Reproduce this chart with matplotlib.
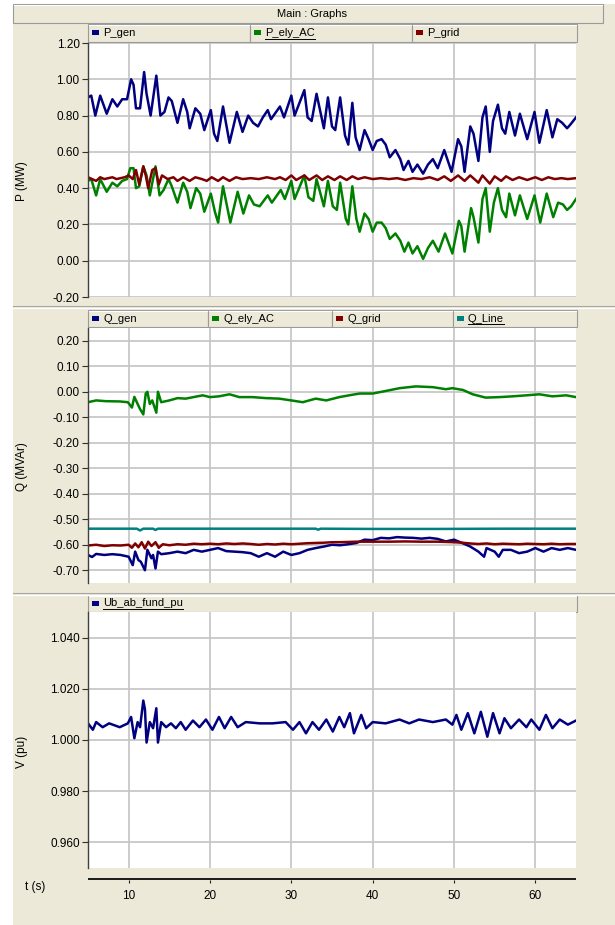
import matplotlib.pyplot as plt
from matplotlib.patches import Rectangle
from matplotlib.ticker import FormatStrFormatter

plt.rcParams['font.family'] = ['Liberation Sans', 'DejaVu Sans']

W, H = 615, 925
BEIGE = '#ECE9D8'
GRID = '#C4C4C4'
NAVY = '#000080'
GREEN = '#008000'
MAROON = '#800000'
TEAL = '#008080'

time_ticks = [10, 20, 30, 40, 50, 60]

# ---- P panel (MW) ----
t_pgen = [5.0, 5.4, 5.9, 6.5, 7.3, 8.0, 8.6, 9.2, 9.8, 10.3, 10.6, 10.9, 11.4, 11.9, 12.2,
          12.7, 13.4, 13.9, 14.4, 14.9, 15.3, 16.0, 16.7, 17.2, 17.5, 18.2, 18.8, 19.3, 20.1,
          20.5, 20.9, 21.6, 22.4, 23.3, 24.0, 24.7, 25.3, 25.9, 26.5, 27.1, 27.5, 28.6, 29.1,
          30.0, 30.4, 31.6, 32.0, 32.5, 33.1, 34.0, 34.5, 35.0, 35.4, 36.0, 36.6, 37.0, 37.5,
          37.9, 38.4, 39.0, 39.5, 40.0, 40.5, 41.1, 41.6, 42.1, 42.8, 43.4, 43.8, 44.4, 44.9,
          45.5, 46.2, 46.8, 47.4, 48.0, 48.8, 49.7, 50.5, 50.9, 51.3, 52.0, 52.4, 53.0, 53.5,
          53.9, 54.4, 54.8, 55.4, 55.9, 56.3, 56.8, 57.5, 58.1, 59.0, 59.9, 60.5, 61.4, 62.1,
          62.7, 63.3, 63.9, 64.3, 65.0]
p_gen = [0.90, 0.91, 0.80, 0.91, 0.81, 0.89, 0.85, 0.89, 0.89, 1.00, 0.97, 0.84, 0.84, 1.04, 0.92,
         0.80, 1.02, 0.80, 0.82, 0.90, 0.88, 0.76, 0.89, 0.82, 0.73, 0.84, 0.81, 0.72, 0.83,
         0.70, 0.66, 0.85, 0.65, 0.82, 0.71, 0.80, 0.76, 0.74, 0.79, 0.83, 0.78, 0.85, 0.79,
         0.91, 0.80, 0.94, 0.79, 0.77, 0.92, 0.73, 0.90, 0.74, 0.72, 0.90, 0.69, 0.64, 0.87,
         0.68, 0.61, 0.72, 0.67, 0.61, 0.66, 0.67, 0.64, 0.57, 0.61, 0.56, 0.50, 0.55, 0.49,
         0.53, 0.48, 0.53, 0.56, 0.51, 0.61, 0.49, 0.67, 0.63, 0.49, 0.74, 0.70, 0.55, 0.79,
         0.85, 0.60, 0.77, 0.86, 0.73, 0.70, 0.82, 0.69, 0.81, 0.67, 0.82, 0.65, 0.83, 0.68,
         0.78, 0.76, 0.73, 0.75, 0.79]

t_pely = [5.0, 5.4, 6.0, 6.5, 7.3, 8.0, 8.6, 9.2, 9.8, 10.2, 10.6, 10.9, 11.3, 11.8, 12.2,
          12.6, 13.3, 13.8, 14.3, 14.9, 15.3, 16.0, 16.7, 17.2, 17.6, 18.3, 18.8, 19.3, 20.1,
          20.6, 21.0, 21.6, 22.5, 23.4, 24.1, 24.8, 25.4, 26.1, 27.1, 27.6, 28.7, 29.2, 30.0,
          30.4, 31.6, 32.1, 32.7, 33.1, 34.0, 34.5, 35.1, 35.6, 36.0, 36.7, 37.0, 37.5, 38.0,
          38.4, 39.0, 39.5, 40.0, 40.5, 41.1, 41.6, 42.1, 42.8, 43.4, 43.9, 44.4, 44.9, 45.5,
          46.2, 46.8, 47.4, 48.1, 48.9, 49.8, 50.6, 50.9, 51.3, 52.1, 52.4, 53.0, 53.5, 53.9,
          54.4, 54.9, 55.4, 55.9, 56.4, 56.8, 57.5, 58.1, 59.0, 59.9, 60.6, 61.4, 62.2, 62.8,
          63.4, 63.9, 64.4, 65.0]
p_ely_ac = [0.44, 0.45, 0.36, 0.45, 0.38, 0.43, 0.41, 0.44, 0.45, 0.51, 0.51, 0.40, 0.41, 0.52, 0.47,
            0.36, 0.52, 0.36, 0.39, 0.45, 0.41, 0.32, 0.43, 0.38, 0.29, 0.40, 0.37, 0.27, 0.37,
            0.27, 0.21, 0.41, 0.21, 0.38, 0.26, 0.36, 0.31, 0.30, 0.36, 0.32, 0.39, 0.34, 0.44,
            0.34, 0.47, 0.35, 0.33, 0.45, 0.30, 0.44, 0.30, 0.28, 0.43, 0.23, 0.20, 0.41, 0.23,
            0.16, 0.26, 0.23, 0.16, 0.21, 0.21, 0.18, 0.12, 0.15, 0.11, 0.05, 0.10, 0.04, 0.08,
            0.01, 0.07, 0.11, 0.05, 0.15, 0.04, 0.22, 0.19, 0.05, 0.29, 0.24, 0.10, 0.34, 0.40,
            0.16, 0.32, 0.40, 0.28, 0.24, 0.37, 0.25, 0.36, 0.23, 0.36, 0.21, 0.37, 0.24, 0.32,
            0.31, 0.28, 0.30, 0.34]

t_pgrid = [5.0, 5.5, 6.0, 6.5, 7.0, 7.5, 8.0, 8.5, 9.0, 9.5, 10.0, 10.5, 10.9, 11.3, 11.8,
           12.1, 12.4, 12.9, 13.3, 13.7, 14.1, 14.8, 15.5, 16.0, 16.7, 17.5, 18.2, 19.0, 19.6,
           20.2, 21.0, 21.6, 22.4, 23.2, 24.0, 25.0, 26.0, 27.0, 28.0, 28.6, 29.3, 30.0, 30.6,
           31.6, 32.2, 33.1, 33.8, 34.5, 35.3, 36.0, 36.8, 37.5, 38.2, 39.0, 40.0, 41.0, 42.0,
           43.0, 44.0, 45.0, 46.0, 47.0, 48.0, 48.8, 49.6, 50.5, 51.3, 52.0, 53.0, 53.5, 54.4,
           55.0, 55.8, 56.4, 57.2, 58.0, 59.0, 60.0, 60.8, 61.6, 62.4, 63.2, 64.0, 65.0]
p_grid = [0.46, 0.45, 0.44, 0.46, 0.45, 0.455, 0.46, 0.45, 0.455, 0.46, 0.47, 0.45, 0.50, 0.42, 0.52,
          0.47, 0.40, 0.50, 0.51, 0.42, 0.47, 0.45, 0.46, 0.44, 0.46, 0.44, 0.46, 0.45, 0.44,
          0.46, 0.44, 0.46, 0.44, 0.46, 0.45, 0.455, 0.45, 0.46, 0.45, 0.46, 0.445, 0.47, 0.445,
          0.47, 0.445, 0.47, 0.445, 0.465, 0.445, 0.465, 0.445, 0.465, 0.45, 0.46, 0.45, 0.455, 0.45,
          0.455, 0.445, 0.455, 0.45, 0.46, 0.445, 0.465, 0.44, 0.47, 0.44, 0.47, 0.43, 0.47, 0.425,
          0.465, 0.44, 0.465, 0.445, 0.46, 0.445, 0.46, 0.445, 0.46, 0.45, 0.455, 0.45, 0.455]

# ---- Q panel (MVAr) ----
t_qgen = [5.0, 5.5, 6.0, 7.0, 8.0, 9.0, 10.0, 10.5, 10.8, 11.2, 11.5, 12.0, 12.3, 12.8, 13.0,
          13.3, 13.6, 14.0, 15.0, 16.0, 17.0, 18.0, 19.0, 20.0, 21.0, 22.0, 23.0, 24.0, 25.0,
          26.0, 27.0, 28.0, 29.0, 30.0, 31.0, 32.0, 33.0, 34.0, 35.0, 36.0, 37.0, 38.0, 39.0,
          40.0, 41.0, 42.0, 43.0, 44.0, 45.0, 46.0, 47.0, 48.0, 49.0, 50.0, 51.0, 52.0, 53.0,
          53.7, 54.0, 55.0, 55.5, 56.0, 57.0, 58.0, 59.0, 60.0, 61.0, 62.0, 63.0, 64.0, 65.0]
q_gen = [-0.640, -0.648, -0.636, -0.640, -0.637, -0.640, -0.647, -0.680, -0.627, -0.660, -0.667,
         -0.700, -0.620, -0.653, -0.640, -0.693, -0.627, -0.637, -0.633, -0.627, -0.633, -0.620,
         -0.627, -0.620, -0.613, -0.625, -0.627, -0.629, -0.633, -0.647, -0.633, -0.647, -0.627,
         -0.640, -0.633, -0.620, -0.613, -0.607, -0.600, -0.602, -0.598, -0.593, -0.580, -0.582,
         -0.573, -0.575, -0.570, -0.572, -0.573, -0.576, -0.573, -0.577, -0.587, -0.580, -0.593,
         -0.607, -0.627, -0.647, -0.613, -0.627, -0.647, -0.620, -0.620, -0.633, -0.627, -0.613,
         -0.627, -0.613, -0.620, -0.613, -0.620]

t_qely = [5.0, 6.0, 7.2, 8.9, 9.9, 10.4, 10.7, 11.1, 11.4, 11.8, 12.1, 12.3, 12.6, 12.9, 13.4,
          13.6, 14.0, 15.0, 16.0, 17.0, 19.1, 20.0, 21.1, 22.4, 23.6, 25.2, 26.9, 28.5, 30.0,
          31.4, 33.0, 34.3, 35.9, 37.1, 38.4, 40.0, 41.6, 43.3, 45.3, 47.4, 49.0, 49.8, 51.1,
          52.3, 53.9, 55.6, 57.2, 58.9, 60.5, 62.1, 63.8, 65.0]
q_ely_ac = [-0.041, -0.034, -0.037, -0.038, -0.041, -0.062, -0.020, -0.048, -0.068, -0.089, -0.007,
            0.000, -0.048, -0.034, -0.082, 0.000, -0.041, -0.034, -0.025, -0.027, -0.014, -0.021,
            -0.018, -0.010, -0.021, -0.021, -0.025, -0.027, -0.034, -0.041, -0.027, -0.034, -0.021,
            -0.014, -0.007, -0.007, 0.003, 0.014, 0.021, 0.018, 0.010, 0.014, 0.007, -0.010,
            -0.023, -0.021, -0.018, -0.014, -0.010, -0.018, -0.014, -0.021]

t_qgrid = [5.0, 6.0, 7.0, 8.0, 9.0, 10.0, 10.4, 10.8, 11.2, 11.6, 12.0, 12.4, 12.8, 13.3, 13.7,
           14.2, 15.0, 16.0, 17.0, 18.0, 19.0, 20.0, 21.0, 22.0, 23.0, 24.0, 25.0, 26.0, 27.0,
           28.0, 29.0, 30.0, 31.0, 32.0, 33.0, 34.0, 35.0, 36.0, 37.0, 38.0, 40.0, 42.0, 44.0,
           46.0, 48.0, 50.0, 51.0, 52.0, 53.0, 54.0, 55.0, 56.0, 57.0, 58.0, 59.0, 60.0, 61.0,
           62.0, 63.0, 64.0, 65.0]
q_grid = [-0.603, -0.600, -0.605, -0.602, -0.603, -0.600, -0.612, -0.595, -0.610, -0.590, -0.615,
          -0.588, -0.605, -0.590, -0.612, -0.598, -0.602, -0.598, -0.600, -0.596, -0.598, -0.596,
          -0.598, -0.595, -0.597, -0.595, -0.597, -0.600, -0.597, -0.599, -0.596, -0.598, -0.596,
          -0.594, -0.593, -0.592, -0.590, -0.590, -0.589, -0.588, -0.588, -0.588, -0.587, -0.588,
          -0.588, -0.590, -0.592, -0.595, -0.597, -0.595, -0.598, -0.596, -0.597, -0.598, -0.596,
          -0.597, -0.598, -0.596, -0.598, -0.597, -0.597]

t_qline = [5.0, 11.0, 11.4, 11.8, 13.0, 13.3, 13.6, 20.0, 30.0, 33.0, 33.3, 33.6, 40.0, 48.0, 56.0, 65.0]
q_line = [-0.537, -0.537, -0.544, -0.537, -0.537, -0.542, -0.537, -0.537, -0.537, -0.537, -0.541,
          -0.537, -0.538, -0.538, -0.537, -0.537]

# ---- V panel (pu) ----
t_v = [5.0, 5.6, 6.0, 6.8, 7.6, 8.9, 9.9, 10.3, 10.7, 11.1, 11.4, 11.8, 12.0, 12.2, 12.6, 13.0,
       13.4, 13.6, 14.0, 14.6, 15.2, 15.8, 16.4, 17.0, 17.9, 18.7, 19.5, 20.3, 21.1, 21.8, 22.6,
       23.4, 24.4, 26.1, 27.7, 29.3, 30.2, 31.0, 31.8, 32.6, 33.4, 34.3, 35.1, 35.9, 36.5, 37.2,
       37.7, 38.6, 39.2, 40.0, 41.6, 43.3, 44.5, 45.7, 47.4, 49.0, 49.8, 50.3, 50.9, 51.7, 52.5,
       53.3, 54.1, 54.8, 55.6, 56.2, 57.0, 58.0, 58.9, 59.5, 60.5, 61.3, 62.1, 63.0, 64.0, 65.0]
u_ab = [1.0065, 1.0040, 1.0070, 1.0050, 1.0065, 1.0050, 1.0065, 1.0090, 1.0007, 1.0070, 1.0050,
        1.0154, 1.0120, 0.9990, 1.0070, 1.0046, 1.0124, 0.9990, 1.0070, 1.0050, 1.0065, 1.0046,
        1.0070, 1.0040, 1.0076, 1.0050, 1.0080, 1.0040, 1.0090, 1.0046, 1.0090, 1.0050, 1.0070,
        1.0065, 1.0065, 1.0070, 1.0040, 1.0070, 1.0026, 1.0070, 1.0040, 1.0080, 1.0033, 1.0090,
        1.0050, 1.0105, 1.0026, 1.0098, 1.0046, 1.0070, 1.0065, 1.0080, 1.0065, 1.0080, 1.0070,
        1.0080, 1.0060, 1.0098, 1.0040, 1.0105, 1.0026, 1.0110, 1.0013, 1.0105, 1.0026, 1.0085,
        1.0046, 1.0080, 1.0050, 1.0080, 1.0040, 1.0098, 1.0046, 1.0080, 1.0060, 1.0076]

fig = plt.figure(figsize=(W / 100, H / 100), dpi=100, facecolor='white')

# background / frame drawn in pixel coordinates
bg = fig.add_axes([0, 0, 1, 1])
bg.set_xlim(0, W)
bg.set_ylim(H, 0)
bg.axis('off')
bg.add_patch(Rectangle((13, 4), W - 13, H - 4, fc=BEIGE, ec='none'))
bg.add_patch(Rectangle((13, 4), 590, 19, fc=BEIGE, ec='#9A9A9A', lw=0.8))
bg.plot([14, 602], [5, 5], color='white', lw=0.8)
bg.text(312, 14, 'Main : Graphs', ha='center', va='center', fontsize=8)
for y in (306, 593):
    bg.plot([13, W], [y, y], color='#A8A8A8', lw=0.8)
    bg.plot([13, W], [y + 1.5, y + 1.5], color='white', lw=0.8)

underlined = []


def legend_strip(top, bottom, edges, names, colors, underline):
    for i, name in enumerate(names):
        x0, x1 = edges[i], edges[i + 1]
        bg.add_patch(Rectangle((x0, top), x1 - x0, bottom - top, fc=BEIGE, ec='#9A9A9A', lw=0.8))
        bg.plot([x0 + 1, x1 - 1], [top + 1, top + 1], color='white', lw=0.8)
        yc = (top + bottom) / 2
        bg.add_patch(Rectangle((x0 + 4, yc - 3), 7, 5, fc=colors[i], ec='none'))
        t = bg.text(x0 + 15, yc, name, ha='left', va='center', fontsize=8)
        if name in underline:
            underlined.append(t)


def panel(top, bottom, ylim, yticks, fmt, ylabel, label_y):
    ax = fig.add_axes([88 / W, 1 - bottom / H, (576 - 88) / W, (bottom - top) / H])
    ax.set_facecolor('white')
    ax.set_xlim(5, 65)
    ax.set_ylim(*ylim)
    ax.set_xticks(time_ticks)
    ax.set_yticks(yticks)
    ax.yaxis.set_major_formatter(FormatStrFormatter(fmt))
    ax.tick_params(axis='x', length=0, labelbottom=False)
    ax.tick_params(axis='y', length=4, width=0.8, color='#303030', labelsize=8.5, pad=2)
    ax.grid(True, color=GRID, lw=1.2)
    ax.set_axisbelow(True)
    for s in ('top', 'right', 'bottom'):
        ax.spines[s].set_visible(False)
    ax.spines['left'].set_color('#404040')
    ax.spines['left'].set_linewidth(1.0)
    bg.text(22, label_y, ylabel, rotation=90, ha='center', va='center', fontsize=8.5)
    return ax


# P panel
legend_strip(24, 42, [88, 250, 412, 577], ['P_gen', 'P_ely_AC', 'P_grid'],
             [NAVY, GREEN, MAROON], ['P_ely_AC'])
ax1 = panel(43, 297, (-0.2, 1.2), [-0.2, 0.0, 0.2, 0.4, 0.6, 0.8, 1.0, 1.2], '%.2f', 'P (MW)', 181)
ax1.plot(t_pgen, p_gen, color=NAVY, lw=1.8)
ax1.plot(t_pely, p_ely_ac, color=GREEN, lw=1.8)
ax1.plot(t_pgrid, p_grid, color=MAROON, lw=1.8)

# Q panel
legend_strip(310, 327, [88, 208, 332, 453, 577], ['Q_gen', 'Q_ely_AC', 'Q_grid', 'Q_Line'],
             [NAVY, GREEN, MAROON, TEAL], ['Q_Line'])
ax2 = panel(328, 583, (-0.75, 0.25), [-0.7, -0.6, -0.5, -0.4, -0.3, -0.2, -0.1, 0.0, 0.1, 0.2],
            '%.2f', 'Q (MVAr)', 467)
ax2.plot(t_qline, q_line, color=TEAL, lw=1.8)
ax2.plot(t_qgen, q_gen, color=NAVY, lw=1.8)
ax2.plot(t_qgrid, q_grid, color=MAROON, lw=1.8)
ax2.plot(t_qely, q_ely_ac, color=GREEN, lw=1.8)

# V panel
legend_strip(595, 612, [88, 577], ['Ub_ab_fund_pu'], [NAVY], ['Ub_ab_fund_pu'])
ax3 = panel(612, 868, (0.95, 1.05), [0.96, 0.98, 1.00, 1.02, 1.04], '%.3f', 'V (pu)', 752)
ax3.plot(t_v, u_ab, color=NAVY, lw=1.8)

# shared time axis strip
axt = fig.add_axes([88 / W, 1 - 880 / H, (576 - 88) / W, 2 / H])
axt.set_facecolor('#202020')
axt.set_xlim(5, 65)
axt.set_xticks(time_ticks)
axt.set_yticks([])
axt.tick_params(axis='x', length=2, color='#202020', labelsize=8.5, pad=5)
for s in axt.spines.values():
    s.set_visible(False)
bg.text(35, 887, 't (s)', ha='center', va='center', fontsize=8.5)

# underline the highlighted legend names
fig.canvas.draw()
inv = bg.transData.inverted()
for t in underlined:
    bb = t.get_window_extent()
    (xa, ya), (xb, yb) = inv.transform([[bb.x0, bb.y0], [bb.x1, bb.y1]])
    bg.plot([xa, xb], [ya + 0.5, ya + 0.5], color='black', lw=0.7)

fig.savefig('out.png', dpi=100, facecolor='white')
